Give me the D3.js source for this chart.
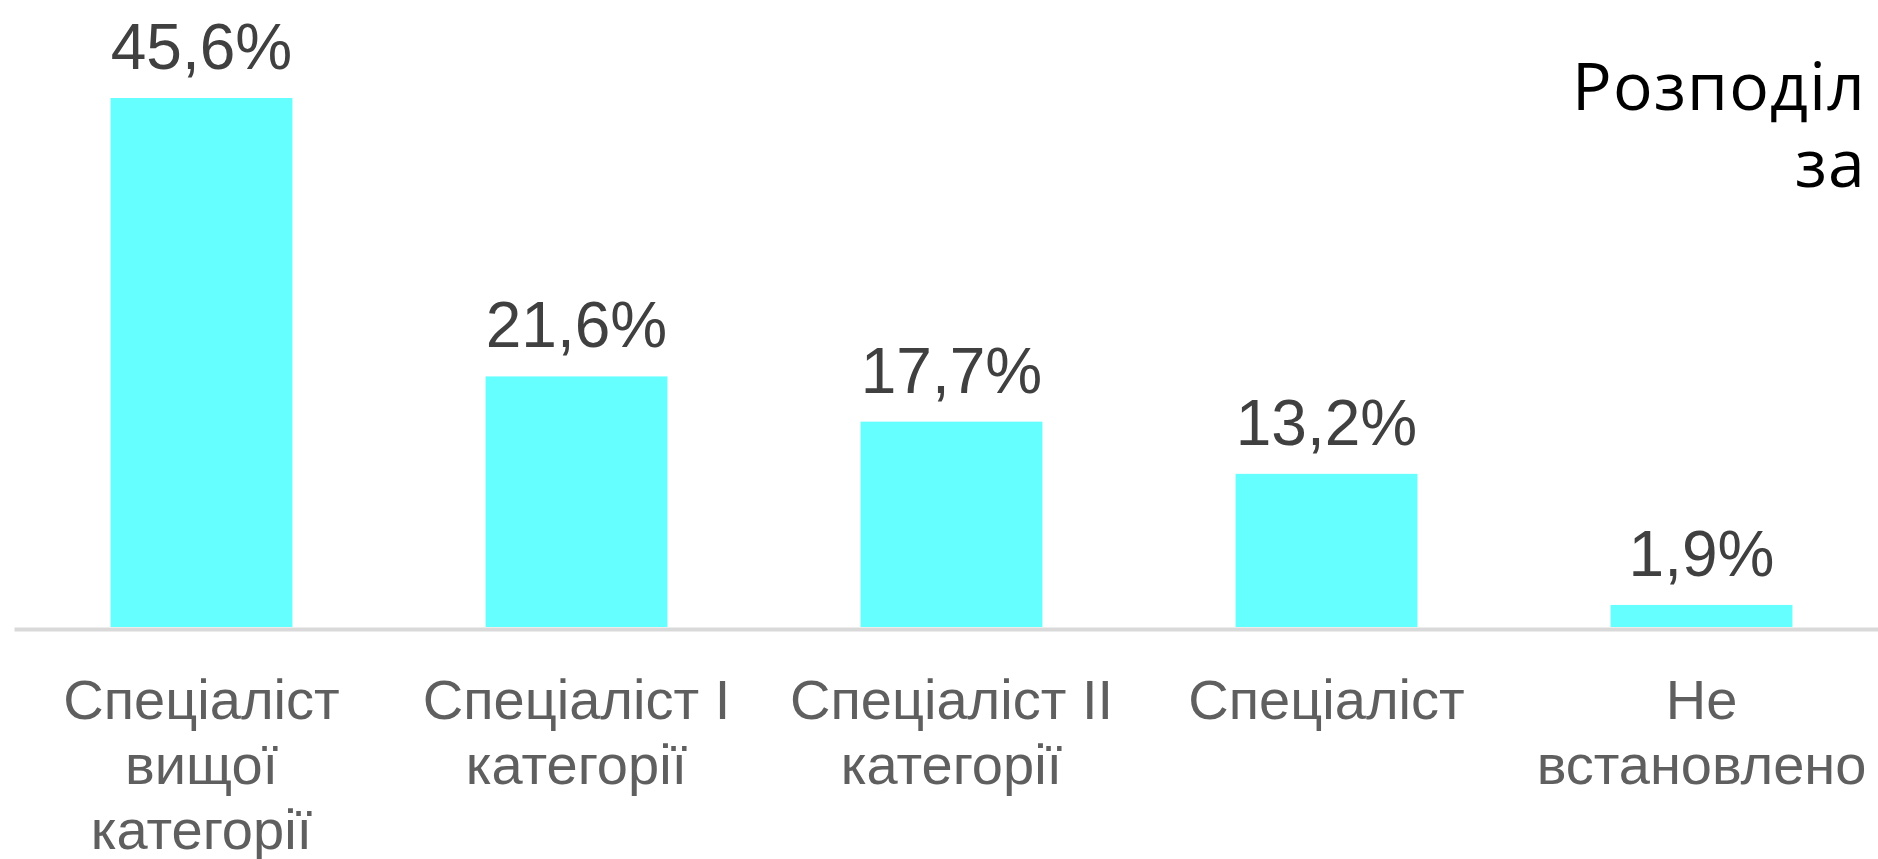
<!DOCTYPE html>
<head>
<meta charset="utf-8">
<title>Розподіл за категоріями</title>
<script src="https://d3js.org/d3.v7.min.js"></script>
<style>
  body { margin: 0; background: #fff; overflow: hidden; }
  svg { display: block; }
</style>
</head>
<body>
<div id="home"></div>
<script>
// categories (line breaks as in the picture) and shares in %
const categories = ["Спеціаліст\nвищої\nкатегорії", "Спеціаліст I\nкатегорії", "Спеціаліст II\nкатегорії", "Спеціаліст", "Не\nвстановлено"];
const values = [45.6, 21.6, 17.7, 13.2, 1.9];
const valueLabels = ["45,6%", "21,6%", "17,7%", "13,2%", "1,9%"];
const titleLines = ["Розподіл", "за"];

const w = 1878;
const h = 859;
const base = 627;

const svg = d3.select("#home")
              .append("svg")
              .attr("width", w)
              .attr("height", h)

const xScale = d3.scaleBand()
                 .domain(categories)
                 .range([14, 1889])
                 .paddingInner(0.515)
                 .paddingOuter(0.2575)

const yScale = d3.scaleLinear()
                 .domain([0, d3.max(values)])
                 .range([base, 98])

// bars
svg.selectAll("rect.bar")
   .data(values)
   .enter()
   .append("rect")
   .attr("class", "bar")
   .attr("x", (d, i) => xScale(categories[i]))
   .attr("y", d => yScale(d))
   .attr("width", xScale.bandwidth())
   .attr("height", d => base - yScale(d))
   .attr("fill", "#66ffff")

// value labels
svg.selectAll("text.val")
   .data(values)
   .enter()
   .append("text")
   .attr("class", "val")
   .attr("x", (d, i) => xScale(categories[i]) + xScale.bandwidth() / 2)
   .attr("y", d => yScale(d) - 29)
   .attr("text-anchor", "middle")
   .attr("font-family", "'Liberation Sans', Arial, sans-serif")
   .attr("font-size", 64)
   .attr("fill", "#404040")
   .text((d, i) => valueLabels[i])

// axis line + category labels
const xAxis = d3.axisBottom(xScale).tickSize(0).tickSizeOuter(0);
const gx = svg.append("g")
   .attr("transform", "translate(0, 629)")
   .call(xAxis)
gx.select(".domain").attr("stroke", "#d9d9d9").attr("stroke-width", 4)
gx.selectAll(".tick text").each(function(d) {
    const t = d3.select(this).text(null)
       .attr("y", 90)
       .attr("dy", null)
       .attr("font-family", "'Liberation Sans', Arial, sans-serif")
       .attr("font-size", 56)
       .attr("fill", "#5f5f5f");
    d.split("\n").forEach((line, k) => {
        t.append("tspan").attr("x", 0).attr("y", 90 + k * 65).text(line);
    });
});

// title (cut off at the right edge, as in the picture)
svg.selectAll("text.title")
   .data(titleLines)
   .enter()
   .append("text")
   .attr("class", "title")
   .attr("x", 1866)
   .attr("y", (d, i) => 110 + i * 77)
   .attr("text-anchor", "end")
   .attr("font-family", "'Open Sans', sans-serif")
   .attr("font-size", 66)
   .attr("letter-spacing", 1.2)
   .attr("fill", "#000")
   .text(d => d)
</script>
</body>
